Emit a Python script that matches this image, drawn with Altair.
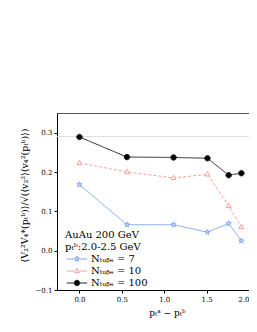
import altair as alt
import pandas as pd

# ---- data ----
x_vals = [0.0, 0.56, 1.11, 1.51, 1.76, 1.91]
n7 = [0.168, 0.066, 0.066, 0.047, 0.069, 0.025]
n10 = [0.223, 0.200, 0.185, 0.194, 0.114, 0.060]
n100 = [0.289, 0.238, 0.237, 0.235, 0.192, 0.197]
labels = ["Nₜᵤᵦₑ = 7", "Nₜᵤᵦₑ = 10", "Nₜᵤᵦₑ = 100"]
ref_line = [0.29]
x_ticks = [0.0, 0.5, 1.0, 1.5, 2.0]
y_ticks = [-0.1, 0.0, 0.1, 0.2, 0.3]

line_colors = ["#7ba7f0", "#f5a0a0", "#222222"]
fill_colors = ["#cfe0fb", "#ffffff", "#000000"]
dashes = [[1, 0], [3, 2], [1, 0]]

STAR = ("M0,-1L0.235,-0.324L0.951,-0.309L0.380,0.124L0.588,0.809L0,0.4"
        "L-0.588,0.809L-0.380,0.124L-0.951,-0.309L-0.235,-0.324Z")
TRI = "M0,-1L0.9,0.6L-0.9,0.6Z"
CIRC = "M1,0A1,1,0,1,1,-1,0A1,1,0,1,1,1,0Z"
shapes = [STAR, TRI, CIRC]
LINE = "M-3.7,0L-1,0M1,0L3.7,0"
leg_shapes = [LINE + s for s in shapes]

rows = []
for lab, vals in zip(labels, [n7, n10, n100]):
    for xv, yv in zip(x_vals, vals):
        rows.append({"x": xv, "y": yv, "series": lab})
df = pd.DataFrame(rows)

FONT = "DejaVu Serif"

xenc = alt.X("x:Q", scale=alt.Scale(domain=[-0.265, 2.0], nice=False, zero=False),
             axis=alt.Axis(values=x_ticks, format=".1f", title="pₜᵃ − pₜᵇ",
                           grid=False, titleX=110, titlePadding=6))
yenc = alt.Y("y:Q", scale=alt.Scale(domain=[-0.1, 0.35], nice=False, zero=False),
             axis=alt.Axis(values=y_ticks, format=".1f",
                           title="⟨V₂²V₄*(pₜᵇ)⟩/√(⟨v₂²⟩⟨v₄²(pₜᵇ)⟩)",
                           grid=False, titleY=82, titlePadding=6, titleFontSize=9.5))

layers = []
ref_df = pd.DataFrame({"y": ref_line})
layers.append(alt.Chart(ref_df).mark_rule(color="#dcdcdc", strokeWidth=1).encode(y=yenc))

for lab, lc, fc, dash, shp in zip(labels, line_colors, fill_colors, dashes, shapes):
    sub = df[df["series"] == lab]
    layers.append(alt.Chart(sub).mark_line(color=lc, strokeWidth=1, strokeDash=dash)
                  .encode(x=xenc, y=yenc))
    layers.append(alt.Chart(sub).mark_point(shape=shp, size=30, stroke=lc, fill=fc,
                                            filled=True, opacity=1, strokeWidth=1)
                  .encode(x=xenc, y=yenc))

legend = alt.Legend(
    orient="none", legendX=8, legendY=117,
    title=["AuAu 200 GeV", "pₜᵇ:2.0-2.5 GeV"],
    titleFont=FONT, titleFontSize=10, titleFontWeight="normal", titleColor="#000",
    labelFont=FONT, labelFontSize=10, labelColor="#000",
    symbolSize=30, symbolStrokeWidth=1, symbolOffset=7, labelOffset=9,
    rowPadding=2, titlePadding=2, titleLineHeight=12, symbolOpacity=1,
)
leg_layer = alt.Chart(df).mark_point(size=30, filled=True, opacity=1).encode(
    x=xenc, y=yenc,
    shape=alt.Shape("series:N", scale=alt.Scale(domain=labels, range=leg_shapes), legend=legend),
    stroke=alt.Stroke("series:N", scale=alt.Scale(domain=labels, range=line_colors), legend=legend),
    fill=alt.Fill("series:N", scale=alt.Scale(domain=labels, range=fill_colors), legend=legend),
).transform_filter("false")
layers.append(leg_layer)

chart = alt.layer(*layers).properties(
    width=192, height=177,
    autosize=alt.AutoSizeParams(type="none"),
    padding={"left": 49, "top": 105, "right": 0, "bottom": 34},
    background="white",
).configure_view(stroke="#555555", strokeWidth=1).configure_axis(
    labelFont=FONT, labelFontSize=7, labelColor="#000",
    titleFont=FONT, titleFontSize=9, titleFontWeight="normal", titleColor="#000",
    domainColor="#000", tickColor="#000", tickSize=3,
)

chart.save("out.html", embed_options={"renderer": "svg", "actions": False})
